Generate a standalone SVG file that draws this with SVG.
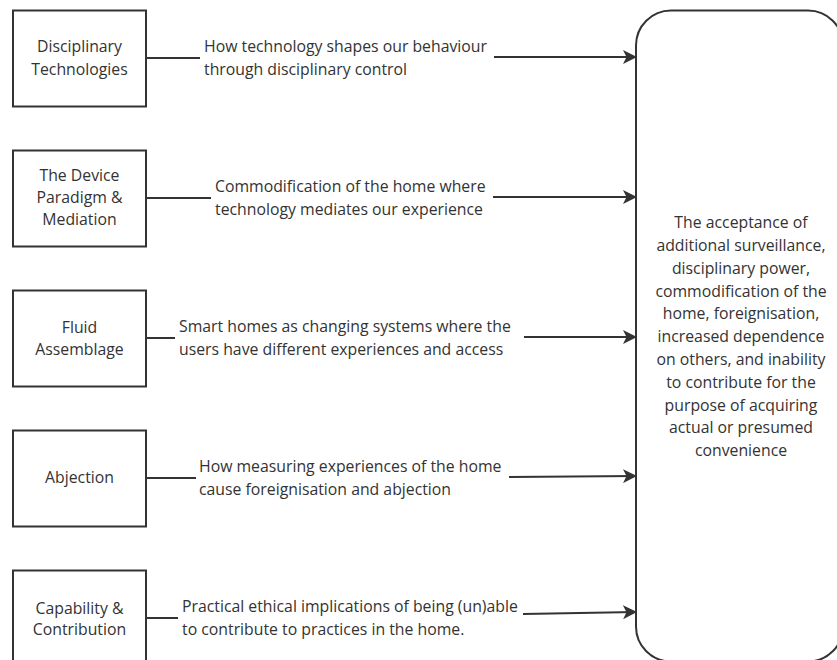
<svg xmlns="http://www.w3.org/2000/svg" width="837" height="660" viewBox="0 0 837 660">
<style>
.box{fill:#fff;stroke:#333;stroke-width:2}
.ln{fill:none;stroke:#333;stroke-width:2}
text{font-family:"Open Sans","Liberation Sans",sans-serif;font-size:15.8px;fill:#333}
.c{text-anchor:middle}
</style>
<defs>
<marker id="ah" viewBox="0 0 14 14" refX="13" refY="7" markerWidth="14" markerHeight="14" markerUnits="userSpaceOnUse" orient="auto">
<path d="M0,0 L14,7 L0,14 L3.5,7 Z" fill="#333"/>
</marker>
</defs>
<rect width="837" height="660" fill="#fff"/>
<g id="outcome">
<rect class="box" x="636" y="10.5" width="207" height="651" rx="35" ry="35"/>
<text class="c" x="741" y="228">The acceptance of</text>
<text class="c" x="741" y="251">additional surveillance,</text>
<text class="c" x="741" y="274">disciplinary power,</text>
<text class="c" x="741" y="297">commodification of the</text>
<text class="c" x="741" y="319">home, foreignisation,</text>
<text class="c" x="741" y="342">increased dependence</text>
<text class="c" x="741" y="365">on others, and inability</text>
<text class="c" x="741" y="388">to contribute for the</text>
<text class="c" x="741" y="411">purpose of acquiring</text>
<text class="c" x="741" y="433">actual or presumed</text>
<text class="c" x="741" y="456">convenience</text>
</g>
<g id="n1">
<rect class="box" x="13" y="10.5" width="133" height="96"/>
<text class="c" x="79.5" y="52">Disciplinary</text>
<text class="c" x="79.5" y="75">Technologies</text>
</g>
<g id="n2">
<rect class="box" x="13" y="150.5" width="133" height="96"/>
<text class="c" x="79.5" y="181">The Device</text>
<text class="c" x="79.5" y="203">Paradigm &amp;</text>
<text class="c" x="79.5" y="225">Mediation</text>
</g>
<g id="n3">
<rect class="box" x="13" y="290.5" width="133" height="96"/>
<text class="c" x="79.5" y="333">Fluid</text>
<text class="c" x="79.5" y="355">Assemblage</text>
</g>
<g id="n4">
<rect class="box" x="13" y="430.5" width="133" height="96"/>
<text class="c" x="79.5" y="483">Abjection</text>
</g>
<g id="n5">
<rect class="box" x="13" y="570.5" width="133" height="96"/>
<text class="c" x="79.5" y="614">Capability &amp;</text>
<text class="c" x="79.5" y="635">Contribution</text>
</g>
<g id="connectors">
<line class="ln" x1="147" y1="58" x2="200" y2="58"/>
<line class="ln" x1="494" y1="57" x2="636" y2="57" marker-end="url(#ah)"/>
<text x="204" y="52">How technology shapes our behaviour</text>
<text x="204" y="75">through disciplinary control</text>
<line class="ln" x1="147" y1="198" x2="211" y2="198"/>
<line class="ln" x1="493" y1="197" x2="636" y2="197" marker-end="url(#ah)"/>
<text x="215" y="192">Commodification of the home where</text>
<text x="215" y="215">technology mediates our experience</text>
<line class="ln" x1="147" y1="338" x2="175" y2="338"/>
<line class="ln" x1="524" y1="337" x2="636" y2="337" marker-end="url(#ah)"/>
<text x="179" y="332">Smart homes as changing systems where the</text>
<text x="179" y="355">users have different experiences and access</text>
<line class="ln" x1="147" y1="478" x2="196" y2="478"/>
<line class="ln" x1="509" y1="477" x2="636" y2="476" marker-end="url(#ah)"/>
<text x="199" y="472">How measuring experiences of the home</text>
<text x="199" y="495">cause foreignisation and abjection</text>
<line class="ln" x1="147" y1="618" x2="178" y2="618"/>
<line class="ln" x1="523" y1="614" x2="636" y2="612" marker-end="url(#ah)"/>
<text x="182" y="612">Practical ethical implications of being (un)able</text>
<text x="182" y="635">to contribute to practices in the home.</text>
</g>
</svg>
